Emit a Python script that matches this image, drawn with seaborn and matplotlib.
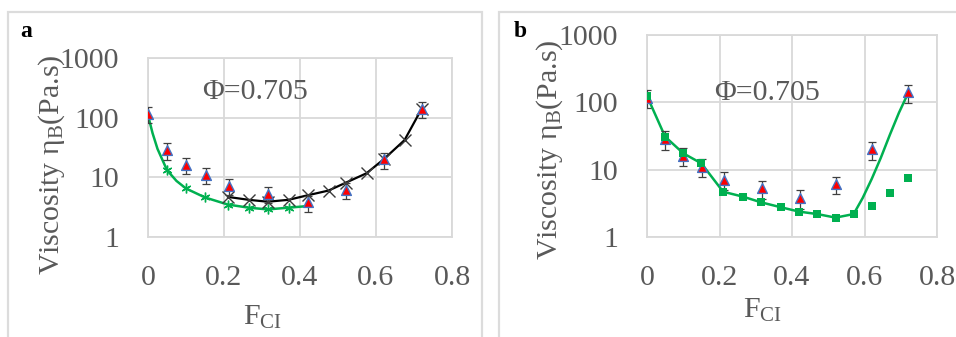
import numpy as np
import pandas as pd
import matplotlib
matplotlib.use("Agg")
import matplotlib.pyplot as plt
from matplotlib.patches import Rectangle
from matplotlib.ticker import NullLocator
import seaborn as sns

# ---- data -------------------------------------------------------------
# measured viscosity (both panels share the experimental points)
exp_x = [0, 0.05, 0.10, 0.152, 0.213, 0.317, 0.422, 0.521, 0.622, 0.72]
exp_y = [116, 28.5, 16, 11.1, 7.1, 5.3, 3.8, 6.1, 20, 140]
exp_err = [35, 8.6, 4.8, 3.3, 2.1, 1.6, 1.15, 1.8, 6, 42]

# panel a: low-F model (asterisks) and high-F model (crosses)
low_x = [0.05, 0.10, 0.15, 0.21, 0.265, 0.315, 0.37]
low_y = [13.2, 6.5, 4.6, 3.5, 3.1, 2.9, 3.1]
low_line_x = [0, 0.012, 0.025, 0.05, 0.075, 0.10, 0.15, 0.21, 0.265, 0.315, 0.37, 0.42]
low_line_y = [110, 55, 30, 13.2, 8.7, 6.5, 4.6, 3.5, 3.1, 2.9, 3.1, 3.3]

high_x = [0.21, 0.265, 0.315, 0.37, 0.42, 0.475, 0.52, 0.575, 0.62, 0.675, 0.72]
high_y = [4.7, 4.2, 3.9, 4.2, 5.0, 6.0, 8.1, 11.7, 20, 42, 140]

# panel b: combined model (squares) and its fitted curve
comb_x = [0, 0.05, 0.10, 0.15, 0.21, 0.265, 0.315, 0.37, 0.42, 0.47, 0.52, 0.57, 0.62, 0.67, 0.72]
comb_y = [124, 30.9, 17.5, 12.4, 4.7, 3.97, 3.27, 2.76, 2.38, 2.19, 1.94, 2.19, 2.92, 4.46, 7.4]
fit_x = [0, 0.05, 0.10, 0.15, 0.21, 0.265, 0.315, 0.37, 0.42, 0.47, 0.52, 0.57, 0.595, 0.62, 0.645, 0.67, 0.695, 0.72]
fit_y = [124, 30.9, 17.5, 12.4, 4.7, 3.97, 3.27, 2.76, 2.38, 2.19, 1.94, 2.19, 3.8, 7.3, 15, 33, 70, 136]

xticks = [0, 0.2, 0.4, 0.6, 0.8]
xtick_labels = ["0", "0.2", "0.4", "0.6", "0.8"]
yticks = [1, 10, 100, 1000]
ytick_labels = ["1", "10", "100", "1000"]
phi_text = "Φ=0.705"
ylabel_text = "Viscosity η$_{\\mathrm{B}}$(Pa.s)"
xlabel_text = "F$_{\\mathrm{CI}}$"

# ---- style ------------------------------------------------------------
sns.set_theme(style="white")
plt.rcParams["font.family"] = ["Liberation Serif", "DejaVu Serif"]
plt.rcParams["mathtext.fontset"] = "custom"
plt.rcParams["mathtext.rm"] = "Liberation Serif"
plt.rcParams["mathtext.it"] = "Liberation Serif:italic"

GRAY_TXT = "#595959"
GRID = "#d9d9d9"
GREEN = "#00b050"
TRI_FACE = "#ff0000"
TRI_EDGE = "#4472c4"
FS = 21.5

W, H = 956, 337
fig = plt.figure(figsize=(W / 100, H / 100), dpi=100)
fig.patch.set_facecolor("white")


def fx(px):
    return px / W


def fy(py):
    return 1 - py / H


def panel_frame(x0, x1):
    fig.add_artist(Rectangle((fx(x0), fy(345)), fx(x1) - fx(x0), fy(12) - fy(345),
                             transform=fig.transFigure, fill=False,
                             ec="#dcdcdc", lw=1.6))


panel_frame(8, 482)
panel_frame(499, 970)


def make_axes(left, right, top, bottom):
    ax = fig.add_axes([fx(left), fy(bottom), fx(right) - fx(left), fy(top) - fy(bottom)])
    ax.set_yscale("log")
    ax.set_xlim(0, 0.8)
    ax.set_ylim(1, 1000)
    ax.set_xticks(xticks)
    ax.set_xticklabels(xtick_labels)
    ax.set_yticks(yticks)
    ax.set_yticklabels(ytick_labels)
    ax.yaxis.set_minor_locator(NullLocator())
    ax.tick_params(length=0, labelsize=FS, colors=GRAY_TXT)
    ax.tick_params(axis="y", pad=21)
    ax.tick_params(axis="x", pad=20)
    ax.grid(True, color=GRID, lw=1.3)
    ax.set_axisbelow(True)
    for s in ax.spines.values():
        s.set_color(GRID)
        s.set_linewidth(1.3)
    ax.set_xlabel("")
    ax.set_ylabel("")
    return ax


def draw_experiment(ax):
    ax.errorbar(exp_x, exp_y, yerr=exp_err, fmt="none", ecolor="#404040",
                elinewidth=0.9, capsize=3, capthick=0.9, zorder=4)
    sns.scatterplot(x=exp_x, y=exp_y, ax=ax, marker="^", s=50, color=TRI_FACE,
                    edgecolor=TRI_EDGE, linewidth=1.0, zorder=5)


# ---- panel a ------------------------------------------------------------
ax_a = make_axes(148, 452, 58, 237)
sns.lineplot(x=low_line_x, y=low_line_y, ax=ax_a, color=GREEN, lw=1.8, zorder=2)
ax_a.plot(low_x, low_y, ls="none", marker=(6, 2, 0), ms=7, mew=1.0, color=GREEN, zorder=3)
sns.lineplot(x=high_x, y=high_y, ax=ax_a, color="black", lw=1.6, zorder=2)
ax_a.plot(high_x, high_y, ls="none", marker="x", ms=8, mew=1.0, color="#3a3a3a", zorder=3)
draw_experiment(ax_a)
ax_a.set_xlim(0, 0.8)
ax_a.set_ylim(1, 1000)

# ---- panel b ------------------------------------------------------------
ax_b = make_axes(647, 937, 35, 237)
sns.lineplot(x=fit_x, y=fit_y, ax=ax_b, color=GREEN, lw=1.8, zorder=2)
draw_experiment(ax_b)
sns.scatterplot(x=comb_x, y=comb_y, ax=ax_b, marker="s", s=26, color=GREEN,
                linewidth=0, zorder=6)
ax_b.set_xlim(0, 0.8)
ax_b.set_ylim(1, 1000)

# ---- annotations ------------------------------------------------------
for (tx, ty) in [(255, 92), (767, 93)]:
    fig.text(fx(tx), fy(ty), phi_text, ha="center", va="center", fontsize=FS, color=GRAY_TXT)

for (tx, ty) in [(51.5, 165), (550, 150)]:
    fig.text(fx(tx), fy(ty), ylabel_text, ha="center", va="center", rotation=90,
             fontsize=FS, color=GRAY_TXT)

for (tx, ty) in [(263, 325), (763, 318)]:
    fig.text(fx(tx), fy(ty), xlabel_text, ha="center", va="baseline",
             fontsize=FS, color=GRAY_TXT)

fig.text(fx(20), fy(37), "a", fontsize=17, fontweight="bold", color="black", va="baseline")
fig.text(fx(514), fy(37), "b", fontsize=17, fontweight="bold", color="black", va="baseline")

fig.savefig("out.png", dpi=100, facecolor="white")
